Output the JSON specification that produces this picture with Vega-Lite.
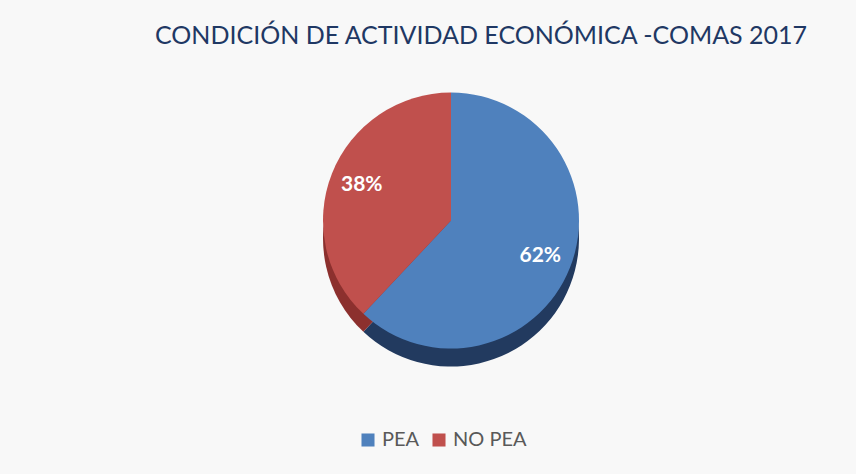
{
  "$schema": "https://vega.github.io/schema/vega-lite/v6.json",
  "width": 856,
  "height": 474,
  "autosize": {"type": "fit", "contains": "padding"},
  "padding": {"left": 6, "top": 24, "right": 0, "bottom": 22},
  "background": "#f8f8f8",
  "config": {"view": {"stroke": null}, "font": "Lato"},
  "title": {
    "text": "CONDICIÓN DE ACTIVIDAD ECONÓMICA -COMAS 2017",
    "color": "#1f3864",
    "fontSize": 25,
    "fontWeight": "normal",
    "font": "Lato",
    "anchor": "middle",
    "dx": 50,
    "offset": 10
  },
  "data": {
    "values": [
      {"categoria": "PEA", "porcentaje": 0.62, "orden": 1},
      {"categoria": "NO PEA", "porcentaje": 0.38, "orden": 2}
    ]
  },
  "layer": [
    {
      "mark": {"type": "arc", "radius": 128, "xOffset": 20, "yOffset": -17},
      "encoding": {
        "theta": {"field": "porcentaje", "type": "quantitative", "stack": true},
        "order": {"field": "orden", "type": "quantitative"},
        "fill": {
          "field": "orden",
          "type": "nominal",
          "scale": {"domain": [1, 2], "range": ["#223a5f", "#8c302e"]},
          "legend": null
        }
      }
    },
    {
      "mark": {"type": "arc", "radius": 128, "xOffset": 20, "yOffset": -35},
      "encoding": {
        "theta": {"field": "porcentaje", "type": "quantitative", "stack": true},
        "order": {"field": "orden", "type": "quantitative"},
        "color": {
          "field": "categoria",
          "type": "nominal",
          "scale": {"domain": ["PEA", "NO PEA"], "range": ["#4f81bd", "#c0504d"]},
          "legend": {
            "orient": "none",
            "legendX": 352,
            "legendY": 371,
            "direction": "horizontal",
            "title": null,
            "symbolType": "square",
            "symbolSize": 170,
            "symbolStrokeWidth": 0,
            "labelColor": "#595959",
            "labelFontSize": 20,
            "labelFont": "Lato",
            "labelOffset": 4,
            "columnPadding": 9
          }
        }
      }
    },
    {
      "mark": {"type": "text", "radius": 96, "xOffset": 20, "yOffset": -35, "fill": "white", "fontWeight": "bold", "fontSize": 21, "font": "Lato"},
      "encoding": {
        "theta": {"field": "porcentaje", "type": "quantitative", "stack": true},
        "order": {"field": "orden", "type": "quantitative"},
        "text": {"field": "porcentaje", "type": "quantitative", "format": ".0%"}
      }
    }
  ]
}
